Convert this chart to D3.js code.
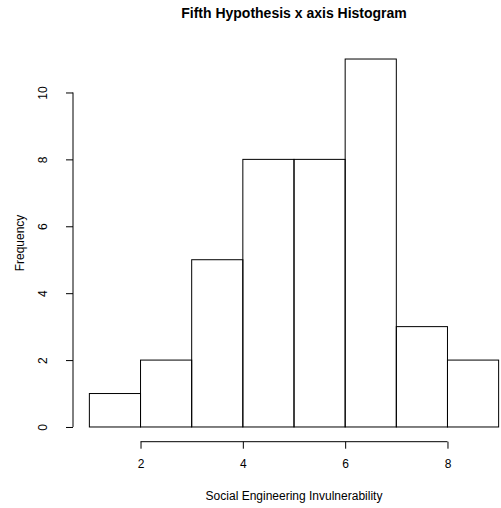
<!DOCTYPE html>
<html>
<head>
<meta charset="utf-8">
<script src="https://cdn.jsdelivr.net/npm/d3@7"></script>
<style>
  body { margin: 0; background: #fff; }
  svg { display: block; font-family: "Liberation Sans", Arial, sans-serif; }
</style>
</head>
<body>
<svg id="chart" width="501" height="508"></svg>
<script>
// histogram bins (left break, right break) and counts
const binStarts = [1, 2, 3, 4, 5, 6, 7, 8];
const binEnds   = [2, 3, 4, 5, 6, 7, 8, 9];
const counts    = [1, 2, 5, 8, 8, 11, 3, 2];
const xTickValues = [2, 4, 6, 8];
const yTickValues = [0, 2, 4, 6, 8, 10];

const title = 'Fifth Hypothesis x axis Histogram';
const xTitle = 'Social Engineering Invulnerability';
const yTitle = 'Frequency';

// plot region (R style: 4% padding on the data range, right side runs off the canvas)
const plot = { left: 73, right: 515, top: 44.3, bottom: 441.7 };

const svg = d3.select('#chart');

const xMin = d3.min(binStarts), xMax = d3.max(binEnds);
const xPad = (xMax - xMin) * 0.04;
const x = d3.scaleLinear()
  .domain([xMin - xPad, xMax + xPad])
  .range([plot.left, plot.right]);

const yMax = d3.max(counts);
const yPad = yMax * 0.04;
const y = d3.scaleLinear()
  .domain([-yPad, yMax + yPad])
  .range([plot.bottom, plot.top]);

// bars
svg.append('g')
  .selectAll('rect')
  .data(counts)
  .enter()
  .append('rect')
  .attr('x', (d, i) => x(binStarts[i]))
  .attr('width', (d, i) => x(binEnds[i]) - x(binStarts[i]))
  .attr('y', d => y(d))
  .attr('height', d => y(0) - y(d))
  .attr('fill', 'none')
  .attr('stroke', '#000')
  .attr('stroke-width', 1);

// x axis
const xAxis = d3.axisBottom(x)
  .tickValues(xTickValues)
  .tickFormat(d3.format('d'))
  .tickSizeInner(7)
  .tickSizeOuter(0)
  .tickPadding(11);

const gx = svg.append('g')
  .attr('transform', 'translate(0,' + plot.bottom + ')')
  .call(xAxis);
gx.select('.domain').remove();
gx.append('line')
  .attr('x1', x(d3.min(xTickValues)))
  .attr('x2', x(d3.max(xTickValues)))
  .attr('stroke', '#000');
gx.selectAll('.tick line').attr('stroke', '#000');
gx.selectAll('.tick text')
  .attr('fill', '#000')
  .style('font-size', '12px')
  .style('font-family', '"Liberation Sans", Arial, sans-serif');

// y axis
const yAxis = d3.axisLeft(y)
  .tickValues(yTickValues)
  .tickFormat(d3.format('d'))
  .tickSizeInner(7)
  .tickSizeOuter(0);

const gy = svg.append('g')
  .attr('transform', 'translate(' + plot.left + ',0)')
  .call(yAxis);
gy.select('.domain').remove();
gy.append('line')
  .attr('y1', y(d3.min(yTickValues)))
  .attr('y2', y(d3.max(yTickValues)))
  .attr('stroke', '#000');
gy.selectAll('.tick line').attr('stroke', '#000');
gy.selectAll('.tick text')
  .attr('x', null)
  .attr('dy', null)
  .attr('fill', '#000')
  .attr('text-anchor', 'middle')
  .attr('transform', 'translate(-26.5,0) rotate(-90)')
  .style('font-size', '12px')
  .style('font-family', '"Liberation Sans", Arial, sans-serif');

// titles
const midX = (plot.left + plot.right) / 2;
const midY = (plot.top + plot.bottom) / 2;

svg.append('text')
  .attr('x', midX)
  .attr('y', 18)
  .attr('text-anchor', 'middle')
  .style('font-size', '14px')
  .style('font-weight', 'bold')
  .text(title);

svg.append('text')
  .attr('x', midX)
  .attr('y', 500)
  .attr('text-anchor', 'middle')
  .style('font-size', '12px')
  .text(xTitle);

svg.append('text')
  .attr('transform', 'translate(24,' + midY + ') rotate(-90)')
  .attr('text-anchor', 'middle')
  .style('font-size', '12px')
  .text(yTitle);
</script>
</body>
</html>
